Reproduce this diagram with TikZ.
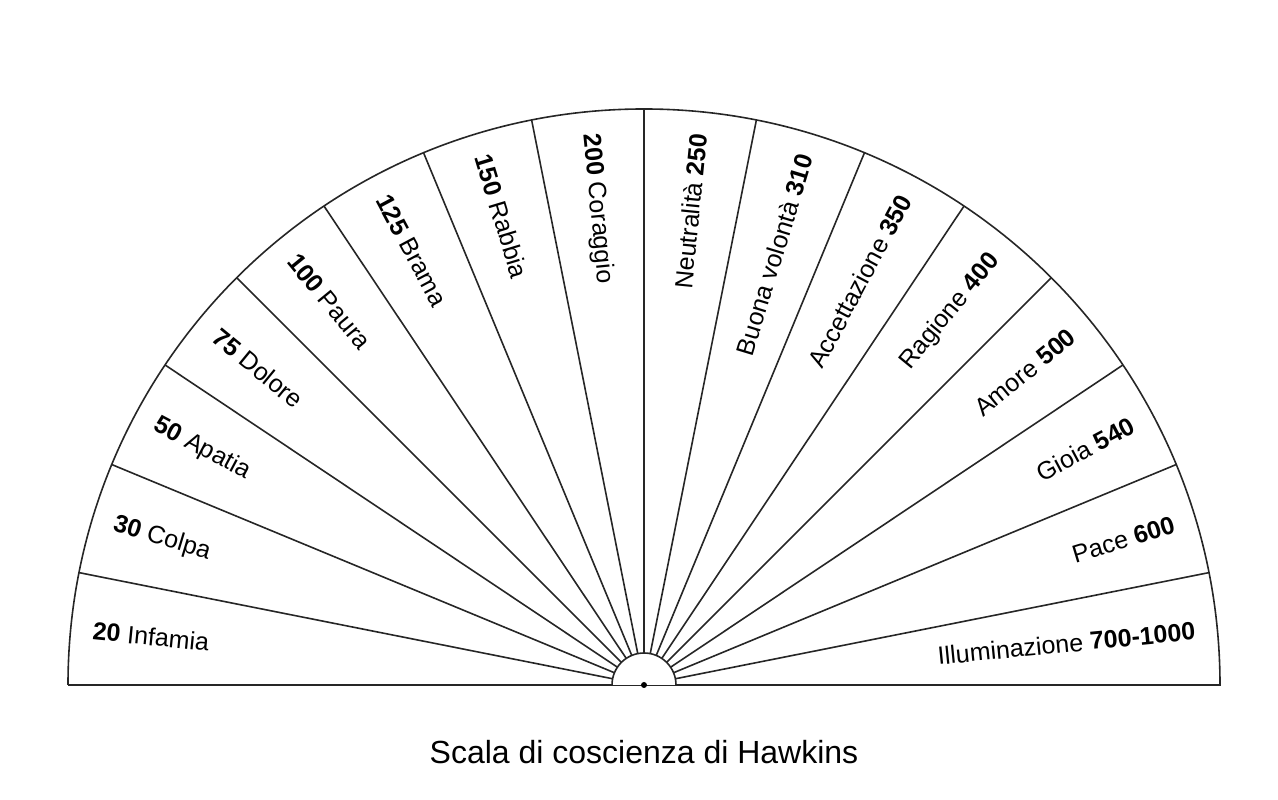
\documentclass[tikz,border=0pt]{standalone}
\usepackage{fontspec}
\setmainfont{Liberation Sans}
\usetikzlibrary{calc}
\begin{document}
\begin{tikzpicture}[x=1pt,y=1pt,
  edge/.style={line width=1.6pt, draw=black!85},
  lbl/.style={inner sep=0pt, font=\fontsize{25}{28}\selectfont},
  ttl/.style={inner sep=0pt, font=\fontsize{32}{36}\selectfont}]
\useasboundingbox (0,0) rectangle (1278,800);
\coordinate (C) at (644,115);
% outer semicircle and base
\draw[edge] (C) ++(-576,0) coordinate (BL) -- ++(1152,0) coordinate (BR)
  arc[start angle=0, end angle=180, radius=576];
% radial lines
\foreach \i in {1,...,15} {
  \draw[edge] ($(C)+(\i*11.25:32)$) -- ($(C)+(\i*11.25:576)$);
}
% inner semicircle
\draw[edge, fill=white] (C) ++(32,0) arc[start angle=0, end angle=180, radius=32];
\fill (C) circle (3);
% left labels
\foreach \t [count=\k from 0] in {{\textbf{20} Infamia},{\textbf{30} Colpa},{\textbf{50} Apatia},{\textbf{75} Dolore},{\textbf{100} Paura},{\textbf{125} Brama},{\textbf{150} Rabbia},{\textbf{200} Coraggio}} {
  \pgfmathsetmacro{\a}{180-(\k+0.5)*11.25}
  \node[lbl, anchor=west, rotate=\a-180] (L\k) at ($(C)+(\a:554)$) {\t};
}
% right labels
\foreach \t [count=\k from 0] in {{Illuminazione \textbf{700-1000}},{Pace \textbf{600}},{Gioia \textbf{540}},{Amore \textbf{500}},{Ragione \textbf{400}},{Accettazione \textbf{350}},{Buona volontà \textbf{310}},{Neutralità \textbf{250}}} {
  \pgfmathsetmacro{\a}{(\k+0.5)*11.25}
  \node[lbl, anchor=east, rotate=\a] (R\k) at ($(C)+(\a:554)$) {\t};
}
\node[ttl] (title) at (644,48) {Scala di coscienza di Hawkins};
\end{tikzpicture}
\end{document}
